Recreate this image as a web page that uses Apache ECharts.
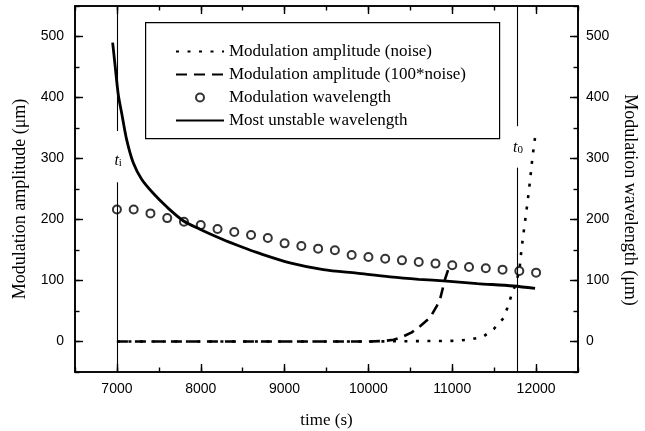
<!DOCTYPE html>
<html>
<head>
<meta charset="utf-8">
<script src="https://cdn.jsdelivr.net/npm/echarts@6/dist/echarts.min.js"></script>
<style>html,body{margin:0;padding:0;background:#fff;}#c{width:645px;height:431px;}</style>
</head>
<body>
<div id="c"></div>
<script>
// ---- data ----
const noiseT = [7000, 10000, 11000, 11200, 11364, 11499, 11610, 11657, 11702, 11758, 11801, 11825, 11860, 11896, 11928, 11956, 11992];
const noiseV = [0, 0, 1, 3, 7.5, 21, 38, 55, 74, 95, 117, 150, 188, 226, 264, 301, 339];

const noise100T = [7000, 10000, 10200, 10300, 10397, 10517, 10616, 10735, 10815, 10854, 10894, 10914, 10974];
const noise100V = [0, 0, 1, 3, 7, 15, 25, 39, 58, 69, 91, 102, 127];

const waveT = [7000, 7200, 7400, 7600, 7800, 8000, 8200, 8400, 8600, 8800, 9000, 9200, 9400, 9600, 9800, 10000, 10200, 10400, 10600, 10800, 11000, 11200, 11400, 11600, 11800, 12000];
const waveV = [216.5, 216.5, 210, 202.3, 196.4, 190.8, 184.3, 179.4, 174.5, 169.6, 160.9, 156.5, 152.2, 149.5, 141.8, 138.5, 135.8, 133, 130.3, 127.7, 124.9, 122.1, 120, 117.8, 115.5, 112.9];

const unstableT = [6949, 6980, 7016, 7056, 7116, 7195, 7295, 7433, 7600, 7791, 7990, 8250, 8507, 8667, 9064, 9462, 9861, 10258, 10600, 10934, 11300, 11729, 11988];
const unstableV = [490, 450, 405, 375, 331, 293, 266, 243, 220, 198, 184, 168, 154, 146, 129, 118, 112, 106, 102, 99, 95, 91, 87];

const xMajorTicks = [7000, 8000, 9000, 10000, 11000, 12000];
const yMajorTicks = [0, 100, 200, 300, 400, 500];
const tI = 7000, tZero = 11780;

const seriesNames = ['Modulation amplitude (noise)', 'Modulation amplitude (100*noise)', 'Modulation wavelength', 'Most unstable wavelength'];
const xTitle = 'time (s)';
const yLeftTitle = 'Modulation amplitude (\u03bcm)';
const yRightTitle = 'Modulation wavelength (\u03bcm)';

// ---- build ----
const pairs = (t, v) => t.map((x, i) => [x, v[i]]);
const SERIF = 'Liberation Serif';
const SANS = 'Liberation Sans';
const plain = v => String(v);

function xAx(pos, major) {
  return {
    type: 'value', position: pos, min: 6500, max: 12500, interval: 500,
    axisLine: { show: true, onZero: false, lineStyle: { color: '#000', width: 1.6 } },
    axisTick: major ? { show: true, inside: true, length: 8, customValues: xMajorTicks, lineStyle: { color: '#000', width: 1.4 } }
                    : { show: true, inside: true, length: 4.5, lineStyle: { color: '#000', width: 1.4 } },
    axisLabel: (major && pos === 'bottom') ? { show: true, customValues: xMajorTicks, formatter: plain, color: '#000', fontFamily: SANS, fontSize: 14, margin: 10 } : { show: false },
    splitLine: { show: false },
    name: (major && pos === 'bottom') ? xTitle : '',
    nameLocation: 'middle', nameGap: 40,
    nameTextStyle: { fontFamily: SERIF, fontSize: 17, color: '#000' }
  };
}
function yAx(pos, major) {
  return {
    type: 'value', position: pos, min: -50, max: 550, interval: 50,
    axisLine: { show: true, onZero: false, lineStyle: { color: '#000', width: 1.6 } },
    axisTick: major ? { show: true, inside: true, length: 8, customValues: yMajorTicks, lineStyle: { color: '#000', width: 1.4 } }
                    : { show: true, inside: true, length: 4.5, lineStyle: { color: '#000', width: 1.4 } },
    axisLabel: major ? { show: true, customValues: yMajorTicks, formatter: plain, color: '#000', fontFamily: SANS, fontSize: 14, margin: pos === 'left' ? 11 : 8 } : { show: false },
    splitLine: { show: false },
    name: major ? (pos === 'left' ? yLeftTitle : yRightTitle) : '',
    nameLocation: 'middle', nameGap: pos === 'left' ? 45 : 43,
    nameRotate: pos === 'left' ? 90 : -90,
    nameTextStyle: { fontFamily: SERIF, fontSize: 18, color: '#000', padding: pos === 'left' ? [0, 20, 0, 0] : [0, 0, 0, 22] }
  };
}

const richLabel = {
  t: { fontFamily: SERIF, fontStyle: 'italic', fontSize: 16, color: '#000', lineHeight: 16, verticalAlign: 'top' },
  s: { fontFamily: SERIF, fontSize: 11, color: '#000', lineHeight: 16, verticalAlign: 'bottom', padding: [5, 0, 0, 0] }
};

const vLine = { color: '#000', width: 1.1, type: 'solid' };
const hiddenMark = { color: 'rgba(0,0,0,0)', borderColor: 'rgba(0,0,0,0)', borderWidth: 0, opacity: 0 };

const option = {
  animation: false,
  backgroundColor: '#fff',
  grid: { left: 75, right: 67, top: 6, bottom: 59, outerBoundsMode: 'none', containLabel: false },
  xAxis: [xAx('bottom', true), xAx('bottom', false), xAx('top', true), xAx('top', false)],
  yAxis: [yAx('left', true), yAx('left', false), yAx('right', true), yAx('right', false)],
  graphic: [{
    type: 'rect', left: 145, top: 22, z: 5,
    shape: { width: 354, height: 116 },
    style: { fill: '#fff', stroke: '#000', lineWidth: 1.2 }
  }],
  legend: {
    orient: 'vertical', left: 170, top: 38, z: 10,
    itemWidth: 48, itemHeight: 8, itemGap: 6,
    textStyle: { fontFamily: SERIF, fontSize: 17, color: '#000', lineHeight: 16 },
    data: [
      { name: seriesNames[0], itemStyle: hiddenMark },
      { name: seriesNames[1], itemStyle: hiddenMark },
      { name: seriesNames[2], icon: 'emptyCircle' },
      { name: seriesNames[3], itemStyle: hiddenMark }
    ]
  },
  series: [
    {
      name: seriesNames[0], type: 'line', xAxisIndex: 0, yAxisIndex: 0,
      data: pairs(noiseT, noiseV), showSymbol: false, symbol: 'none',
      lineStyle: { color: '#000', width: 2.6, type: [3, 8.5] }, itemStyle: { color: '#000' },
      markPoint: {
        symbol: 'circle', symbolSize: 0, silent: true,
        label: { show: true, position: 'inside', rich: richLabel },
        data: [
          { coord: [7015, 297], label: { formatter: '{t|t}{s|i}' } },
          { coord: [11785, 318], label: { formatter: '{t|t}{s|0}' } }
        ]
      }
    },
    {
      name: seriesNames[1], type: 'line', xAxisIndex: 0, yAxisIndex: 0,
      data: pairs(noise100T, noise100V), showSymbol: false, symbol: 'none',
      lineStyle: { color: '#000', width: 2.6, type: [11, 7] }, itemStyle: { color: '#000' }
    },
    {
      name: seriesNames[2], type: 'scatter', xAxisIndex: 0, yAxisIndex: 2,
      data: pairs(waveT, waveV), symbol: 'emptyCircle', symbolSize: 8,
      itemStyle: { color: '#000', borderColor: '#000', borderWidth: 1.3 }
    },
    {
      name: seriesNames[3], type: 'line', xAxisIndex: 0, yAxisIndex: 2,
      data: pairs(unstableT, unstableV), showSymbol: false, symbol: 'none', smooth: 0.3,
      lineStyle: { color: '#000', width: 2.8 }, itemStyle: { color: '#000' },
      markLine: {
        symbol: 'none', silent: true, label: { show: false }, lineStyle: vLine,
        data: [
          [{ coord: [tI, 550] }, { coord: [tI, 345] }],
          [{ coord: [tI, 261] }, { coord: [tI, -50] }],
          [{ coord: [tZero, 550] }, { coord: [tZero, 353] }],
          [{ coord: [tZero, 285] }, { coord: [tZero, -50] }]
        ]
      }
    }
  ]
};

const chart = echarts.init(document.getElementById('c'), null, { renderer: 'canvas' });
chart.setOption(option);
</script>
</body>
</html>
